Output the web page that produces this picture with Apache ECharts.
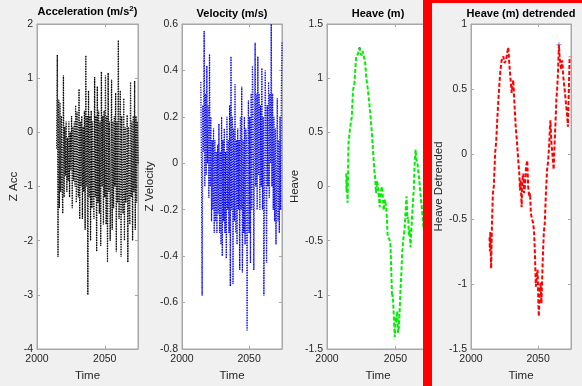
<!DOCTYPE html>
<html><head><meta charset="utf-8">
<script src="https://cdn.jsdelivr.net/npm/echarts@6/dist/echarts.min.js"></script>
<style>html,body{margin:0;padding:0;background:#f0f0f0}#c{width:582px;height:386px}</style>
</head><body><div id="c"></div>
<script>
const xTicks = [2000, 2050];
const accTime = [2014.5,2015,2015.5,2016,2016.5,2017,2017.5,2018,2018.5,2019,2019.5,2020,2020.5,2021,2021.5,2022,2022.5,2023,2023.5,2024,2024.5,2025,2025.5,2026,2026.5,2027,2027.5,2028,2028.5,2029,2029.5,2030,2030.5,2031,2031.5,2032,2032.5,2033,2033.5,2034,2034.5,2035,2035.5,2036,2036.5,2037,2037.5,2038,2038.5,2039,2039.5,2040,2040.5,2041,2041.5,2042,2042.5,2043,2043.5,2044,2044.5,2045,2045.5,2046,2046.5,2047,2047.5,2048,2048.5,2049,2049.5,2050,2050.5,2051,2051.5,2052,2052.5,2053,2053.5,2054,2054.5,2055,2055.5,2056,2056.5,2057,2057.5,2058,2058.5,2059,2059.5,2060,2060.5,2061,2061.5,2062,2062.5,2063,2063.5,2064,2064.5,2065,2065.5,2066,2066.5,2067,2067.5,2068,2068.5,2069,2069.5,2070,2070.5,2071,2071.5,2072,2072.5,2073,2073.5,2074,2074.5];
const accVal = [-0.3,1.43,-2.3,0.6,-1.4,0.55,-1.1,0.3,-0.9,-1.5,1.05,-1.2,0.1,-0.8,0.2,-1.1,-0.1,-0.9,0.2,-1.2,0.0,-0.7,0.3,-1.4,0.1,-0.9,0.2,-1.0,0.5,-1.3,0.38,-0.8,-1.2,0.8,-1.6,0.2,-1.0,0.3,-1.6,0.1,-1.1,0.4,-1.8,1.42,-1.0,0.3,-3.0,0.77,-1.2,0.3,-2.0,0.4,-1.4,0.2,-1.0,-1.6,1.02,-1.2,0.3,-2.2,0.85,-1.3,0.4,-1.5,0.2,-2.1,1.12,-1.0,0.3,-1.7,0.4,-1.2,1.05,-1.7,0.3,-2.4,1.1,-1.1,0.2,-2.0,-1.0,0.97,-1.8,0.2,-1.4,0.3,-1.0,0.73,-2.2,0.2,-1.3,1.7,-1.6,-1.0,0.77,-2.3,0.3,-1.2,-1.5,0.63,-2.0,0.1,-1.3,-1.0,0.32,-2.4,0.1,-1.4,-1.7,0.93,-1.2,0.2,-2.0,0.3,-1.1,0.95,-1.8,0.3,-1.3,0.2,-0.6];
const velTime = [2014,2014.5,2015,2015.5,2016,2016.5,2017,2017.5,2018,2018.5,2019,2019.5,2020,2020.5,2021,2021.5,2022,2022.5,2023,2023.5,2024,2024.5,2025,2025.5,2026,2026.5,2027,2027.5,2028,2028.5,2029,2029.5,2030,2030.5,2031,2031.5,2032,2032.5,2033,2033.5,2034,2034.5,2035,2035.5,2036,2036.5,2037,2037.5,2038,2038.5,2039,2039.5,2040,2040.5,2041,2041.5,2042,2042.5,2043,2043.5,2044,2044.5,2045,2045.5,2046,2046.5,2047,2047.5,2048,2048.5,2049,2049.5,2050,2050.5,2051,2051.5,2052,2052.5,2053,2053.5,2054,2054.5,2055,2055.5,2056,2056.5,2057,2057.5,2058,2058.5,2059,2059.5,2060,2060.5,2061,2061.5,2062,2062.5,2063,2063.5,2064,2064.5,2065,2065.5,2066,2066.5,2067,2067.5,2068,2068.5,2069,2069.5,2070,2070.5,2071,2071.5,2072,2072.5,2073,2073.5,2074,2074.5];
const velVal = [0.35,0.0,-0.57,0.25,0.05,0.57,-0.1,0.3,-0.05,0.42,0.0,0.25,-0.15,0.47,-0.1,0.2,-0.25,0.1,-0.2,0.15,-0.3,0.1,-0.25,0.05,-0.3,0.08,-0.22,0.17,-0.3,0.05,-0.35,0.2,-0.4,0.1,-0.25,0.15,-0.3,0.05,-0.41,0.2,-0.2,0.1,-0.3,0.25,-0.53,0.46,-0.2,0.2,-0.52,0.15,-0.25,0.34,-0.3,0.1,-0.35,0.15,-0.2,0.1,-0.46,0.2,-0.2,0.33,-0.47,0.1,-0.3,0.2,-0.35,0.15,0.1,-0.72,0.05,0.27,-0.3,0.2,-0.43,0.3,-0.2,0.42,0.2,-0.46,0.1,0.52,-0.1,0.3,-0.2,0.46,-0.05,0.3,-0.2,0.25,-0.1,0.41,-0.2,0.2,-0.57,-0.1,0.4,0.1,-0.43,0.25,-0.1,0.35,-0.15,0.3,0.0,0.6,-0.1,0.3,-0.2,0.2,-0.25,0.15,-0.35,-0.1,0.28,-0.25,0.1,-0.3,0.2,-0.2,0.3,0.52];
const heaveTime = [2014,2014.3,2014.6,2015,2015.3,2015.7,2016.5,2017.3,2018.1,2019,2020,2021.3,2022.5,2023.8,2024.5,2025.4,2026,2026.7,2027.3,2027.9,2028.7,2029.7,2030.4,2031,2031.6,2032.8,2033.6,2034.6,2035.2,2035.8,2036.5,2037.3,2037.9,2038.5,2039.3,2040.2,2040.8,2041.4,2042.3,2043.2,2043.8,2044.3,2045.3,2046.3,2047,2047.5,2048.1,2048.8,2049.5,2050.1,2050.7,2051.3,2051.9,2052.5,2053.2,2053.7,2054.2,2054.9,2055.7,2056.6,2057.3,2058.1,2058.7,2059.3,2059.8,2060.3,2061,2061.6,2062.3,2063,2063.5,2064,2064.7,2065.3,2066,2066.6,2067.2,2067.8,2068.4,2069.3,2070.4,2071.5,2072.3,2073.5];
const heaveVal = [0.12,-0.05,0.1,-0.15,0.05,0.4,0.5,0.58,0.64,0.89,0.95,1.2,1.22,1.275,1.23,1.21,1.25,1.24,1.18,1.14,1.0,0.91,0.83,0.82,0.68,0.49,0.33,0.15,0.08,-0.06,0.05,0.0,-0.1,-0.19,-0.05,0.0,-0.1,-0.22,-0.12,-0.19,-0.3,-0.46,-0.48,-0.52,-0.8,-1.02,-1.0,-1.2,-1.39,-1.2,-1.26,-1.15,-1.35,-1.3,-1.11,-0.95,-0.83,-0.62,-0.49,-0.4,-0.25,-0.09,-0.3,-0.28,-0.45,-0.4,-0.56,-0.4,-0.25,-0.1,0.0,0.2,0.34,0.25,0.22,0.15,0.09,0.0,-0.09,-0.2,-0.37,-0.45,-0.47,0.04];
const detTime = [2013.8,2014.1,2014.4,2015,2015.6,2016.3,2017,2018,2018.8,2019.7,2020.6,2021.7,2022.8,2024.1,2025,2026.1,2027,2027.8,2028.5,2029.1,2030.3,2031.5,2032.3,2033.3,2034.2,2035.2,2036,2036.5,2037,2037.7,2038.3,2038.9,2039.5,2040.2,2041,2041.9,2042.6,2043.4,2044,2044.6,2045.5,2046.3,2047,2047.6,2048.3,2049,2049.6,2050.1,2050.5,2051.2,2051.8,2052.5,2053.2,2053.7,2054.3,2055,2055.8,2056.7,2057.5,2058.2,2058.8,2059.2,2059.8,2060.4,2061,2061.6,2062.4,2063,2063.6,2064.2,2064.8,2065.5,2066,2066.6,2067.2,2068,2068.7,2069.3,2070.2,2071,2071.6,2072.2,2072.8,2073.5];
const detVal = [-0.64,-0.75,-0.6,-0.88,-0.55,-0.3,-0.25,0.01,0.1,0.29,0.45,0.62,0.72,0.75,0.7,0.72,0.78,0.82,0.7,0.62,0.47,0.57,0.4,0.21,0.1,-0.05,-0.15,-0.28,-0.2,-0.41,-0.2,-0.15,-0.3,-0.25,-0.1,-0.05,-0.25,-0.33,-0.3,-0.46,-0.5,-0.53,-0.6,-0.76,-1.02,-0.95,-0.89,-1.1,-1.25,-1.05,-0.99,-1.15,-0.9,-0.74,-0.6,-0.53,-0.3,-0.12,-0.05,0.06,0.2,0.26,0.1,0.03,-0.05,-0.12,0.11,0.25,0.42,0.5,0.62,0.84,0.75,0.7,0.65,0.72,0.6,0.54,0.45,0.36,0.3,0.21,0.45,0.75];

const zip = (t, v) => t.map((x, i) => [x, v[i]]);
const peak = (t, v) => { let k = 0; v.forEach((y, i) => { if (y > v[k]) k = i; }); return [[t[k], v[k]]]; };

const FONT = 'Liberation Sans';
const axisCol = '#a8a8a8';
const txtCol = '#262626';
const panels = [
  {left: 37, width: 101, ymin: -4, ymax: 2, yint: 1, yname: 'Z Acc', gap: 13,
   title: '{t|Acceleration (m/s}{s|2}{t|)}'},
  {left: 182, width: 100, ymin: -0.8, ymax: 0.6, yint: 0.2, yname: 'Z Velocity', gap: 13,
   title: '{t|Velocity (m/s)}'},
  {left: 327, width: 102, ymin: -1.5, ymax: 1.5, yint: 0.5, yname: 'Heave', gap: 12,
   title: '{t|Heave (m)}'},
  {left: 471, width: 100, ymin: -1.5, ymax: 1, yint: 0.5, yname: 'Heave Detrended', gap: 25,
   title: '{t|Heave (m) detrended}'}
];
const grid = [], xAxis = [], yAxis = [];
panels.forEach((p, i) => {
  grid.push({left: p.left, top: 24, width: p.width, height: 325, show: true,
    backgroundColor: '#ffffff', borderColor: axisCol, borderWidth: 1, outerBoundsMode: 'none'});
  const xBase = {type: 'value', gridIndex: i, min: 2000, max: 2074.5, interval: 50,
    splitLine: {show: false}, axisLine: {show: true, onZero: false, lineStyle: {color: axisCol}},
    axisTick: {show: true, inside: true, length: 3, lineStyle: {color: axisCol}}};
  xAxis.push(Object.assign({}, xBase, {position: 'bottom', name: 'Time', nameLocation: 'middle', nameGap: 18,
    nameTextStyle: {fontFamily: FONT, fontSize: 11.5, color: txtCol},
    axisLabel: {fontFamily: FONT, fontSize: 10.5, color: txtCol, margin: 5,
      formatter: v => (xTicks.indexOf(v) >= 0 ? String(v) : '')}}));
  xAxis.push(Object.assign({}, xBase, {position: 'top', axisLabel: {show: false},
    name: p.title, nameLocation: 'middle', nameGap: 5,
    nameTextStyle: {rich: {t: {fontFamily: FONT, fontSize: 11, fontWeight: 'bold', color: '#000'},
      s: {fontFamily: FONT, fontSize: 8, fontWeight: 'bold', color: '#000', verticalAlign: 'top', padding: [0, 0, 6, 0]}}}}));
  const yBase = {type: 'value', gridIndex: i, min: p.ymin, max: p.ymax, interval: p.yint,
    splitLine: {show: false}, axisLine: {show: true, onZero: false, lineStyle: {color: axisCol}},
    axisTick: {show: true, inside: true, length: 3, lineStyle: {color: axisCol}}};
  yAxis.push(Object.assign({}, yBase, {position: 'left', name: p.yname, nameLocation: 'middle', nameGap: p.gap,
    nameTextStyle: {fontFamily: FONT, fontSize: 11.5, color: txtCol},
    axisLabel: {fontFamily: FONT, fontSize: 10.5, color: txtCol, margin: 4}}));
  yAxis.push(Object.assign({}, yBase, {position: 'right', axisLabel: {show: false}}));
});

const series = [
  {type: 'line', xAxisIndex: 0, yAxisIndex: 0, data: zip(accTime, accVal), symbol: 'none', animation: false,
   lineStyle: {color: 'rgba(0,0,0,0.2)', width: 1}},
  {type: 'line', xAxisIndex: 0, yAxisIndex: 0, data: zip(accTime, accVal), symbol: 'none', animation: false,
   lineStyle: {color: '#000', width: 1.3, type: [1, 1.5]}},
  {type: 'line', xAxisIndex: 2, yAxisIndex: 2, data: zip(velTime, velVal), symbol: 'none', animation: false,
   lineStyle: {color: 'rgba(110,110,210,0.3)', width: 1}},
  {type: 'line', xAxisIndex: 2, yAxisIndex: 2, data: zip(velTime, velVal), symbol: 'none', animation: false,
   lineStyle: {color: '#0000ff', width: 1.3, type: [1, 1.5]}},
  {type: 'line', xAxisIndex: 4, yAxisIndex: 4, data: zip(heaveTime, heaveVal), symbol: 'none', animation: false,
   lineStyle: {color: '#00ee00', width: 2, type: [4, 2]}},
  {type: 'scatter', xAxisIndex: 4, yAxisIndex: 4, data: peak(heaveTime, heaveVal), symbolSize: 3, animation: false,
   itemStyle: {color: '#444'}},
  {type: 'line', xAxisIndex: 6, yAxisIndex: 6, data: zip(detTime, detVal), symbol: 'none', animation: false,
   lineStyle: {color: '#ff0000', width: 2, type: [4, 2]}},
  {type: 'scatter', xAxisIndex: 6, yAxisIndex: 6, data: peak(detTime, detVal), animation: false,
   symbol: 'path://M4,0 L6,0 L6,4 L10,4 L10,6 L6,6 L6,10 L4,10 L4,6 L0,6 L0,4 L4,4 Z', symbolSize: 5,
   itemStyle: {color: '#6a5acd'}}
];

const chart = echarts.init(document.getElementById('c'), null, {renderer: 'canvas'});
chart.setOption({
  backgroundColor: '#f0f0f0',
  animation: false,
  grid, xAxis, yAxis, series,
  graphic: [
    {type: 'rect', z: 100, shape: {x: 423, y: 0, width: 9, height: 386}, style: {fill: '#ff0000'}},
    {type: 'rect', z: 100, shape: {x: 423, y: 0, width: 159, height: 3}, style: {fill: '#ff0000'}}
  ]
});
</script></body></html>
